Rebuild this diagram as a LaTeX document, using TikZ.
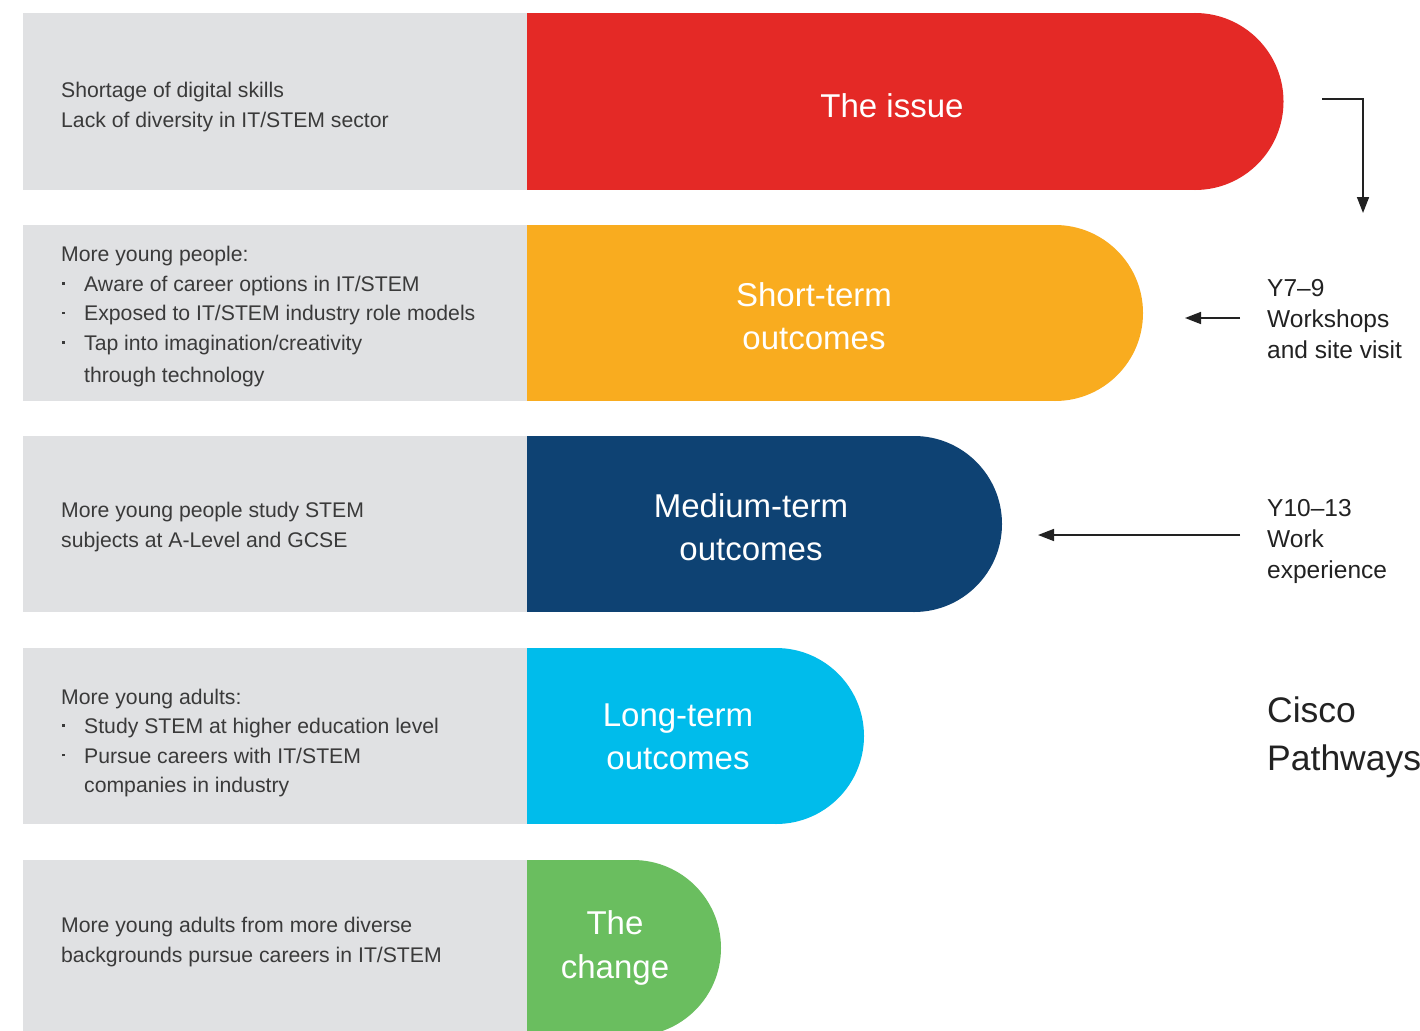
\documentclass[tikz,border=0pt]{standalone}
\usepackage{fontspec}
\setmainfont{Liberation Sans}
\usetikzlibrary{arrows.meta}
\definecolor{cgray}{HTML}{E0E1E3}
\definecolor{cred}{HTML}{E42926}
\definecolor{corange}{HTML}{F9AC1F}
\definecolor{cnavy}{HTML}{0E4273}
\definecolor{ccyan}{HTML}{00BCEB}
\definecolor{cgreen}{HTML}{6ABE5F}
\definecolor{ctext}{HTML}{3A3A3A}
\definecolor{cdark}{HTML}{222222}
\newcommand\bul{\makebox[23pt][l]{\hspace*{1pt}\raisebox{0.32em}{\rule{2.6pt}{2.6pt}}}}
\tikzset{
  graybox/.style={fill=cgray},
  lefttext/.style={anchor=west, align=left, inner sep=0pt, text=ctext,
    font=\fontsize{21.2}{29.5}\selectfont},
  pilltext/.style={align=center, text=white, inner sep=0pt,
    font=\fontsize{33}{43.5}\selectfont},
  sidetext/.style={anchor=west, align=left, inner sep=0pt, text=cdark,
    font=\fontsize{24.5}{31}\selectfont},
  bigtext/.style={anchor=west, align=left, inner sep=0pt, text=cdark,
    font=\fontsize{35.5}{48}\selectfont},
  conn/.style={draw=cdark, line width=1.6pt, -{Triangle[length=16pt,width=12pt]}}
}
\begin{document}
\begin{tikzpicture}[x=1pt,y=-1pt]
\useasboundingbox (0,0) rectangle (1420,1030);
\clip (0,0) rectangle (1420,1030);
\fill[white] (0,0) rectangle (1420,1030);

% row 1
\fill[graybox] (23,13) rectangle (527,190);
\fill[cred] (527,13) rectangle (1195,190);
\fill[cred] (1195,101.5) circle (88.5pt);
% row 2
\fill[graybox] (23,225) rectangle (527,401);
\fill[corange] (527,225) rectangle (1055,401);
\fill[corange] (1055,313) circle (88pt);
% row 3
\fill[graybox] (23,436) rectangle (527,612);
\fill[cnavy] (527,436) rectangle (914,612);
\fill[cnavy] (914,524) circle (88pt);
% row 4
\fill[graybox] (23,648) rectangle (527,824);
\fill[ccyan] (527,648) rectangle (776,824);
\fill[ccyan] (776,736) circle (88pt);
% row 5
\fill[graybox] (23,860) rectangle (527,1036);
\fill[cgreen] (527,860) rectangle (633,1036);
\fill[cgreen] (633,948) circle (88pt);

% left texts
\node[lefttext] (t1) at (61,107) {Shortage of digital skills\\Lack of diversity in IT/STEM sector};
\node[lefttext] (t2) at (61,317) {More young people:\\
\bul Aware of career options in IT/STEM\\
\bul Exposed to IT/STEM industry role models\\
\bul Tap into imagination/creativity\\[3pt]
\hspace*{23pt}through technology};
\node[lefttext] (t3) at (61,527) {More young people study STEM\\subjects at A-Level and GCSE};
\node[lefttext] (t4) at (61,743) {More young adults:\\
\bul Study STEM at higher education level\\
\bul Pursue careers with IT/STEM\\
\hspace*{23pt}companies in industry};
\node[lefttext] (t5) at (61,942) {More young adults from more diverse\\backgrounds pursue careers in IT/STEM};

% pill labels
\node[pilltext] (issue) at (892,106) {The issue};
\node[pilltext] (short) at (814,316) {Short-term\\outcomes};
\node[pilltext] (medium) at (751,527) {Medium-term\\outcomes};
\node[pilltext] (long) at (678,737) {Long-term\\outcomes};
\node[pilltext] (change) at (615,948) {The\\change};

% right side
\node[sidetext] (y79) at (1267,319) {Y7–9\\Workshops\\and site visit};
\node[sidetext] (y1013) at (1267,541) {Y10–13\\Work\\experience};
\node[bigtext] (cisco) at (1267,737) {Cisco\\Pathways};

\coordinate (a1s) at (1322,99);
\coordinate (a1c) at (1363,99);
\coordinate (a1e) at (1363,213);
\coordinate (a2s) at (1240,318);
\coordinate (a2e) at (1185,318);
\coordinate (a3s) at (1240,535);
\coordinate (a3e) at (1038,535);
\draw[conn] (a1s) -- (a1c) -- (a1e);
\draw[conn] (a2s) -- (a2e);
\draw[conn] (a3s) -- (a3e);
\end{tikzpicture}
\end{document}
